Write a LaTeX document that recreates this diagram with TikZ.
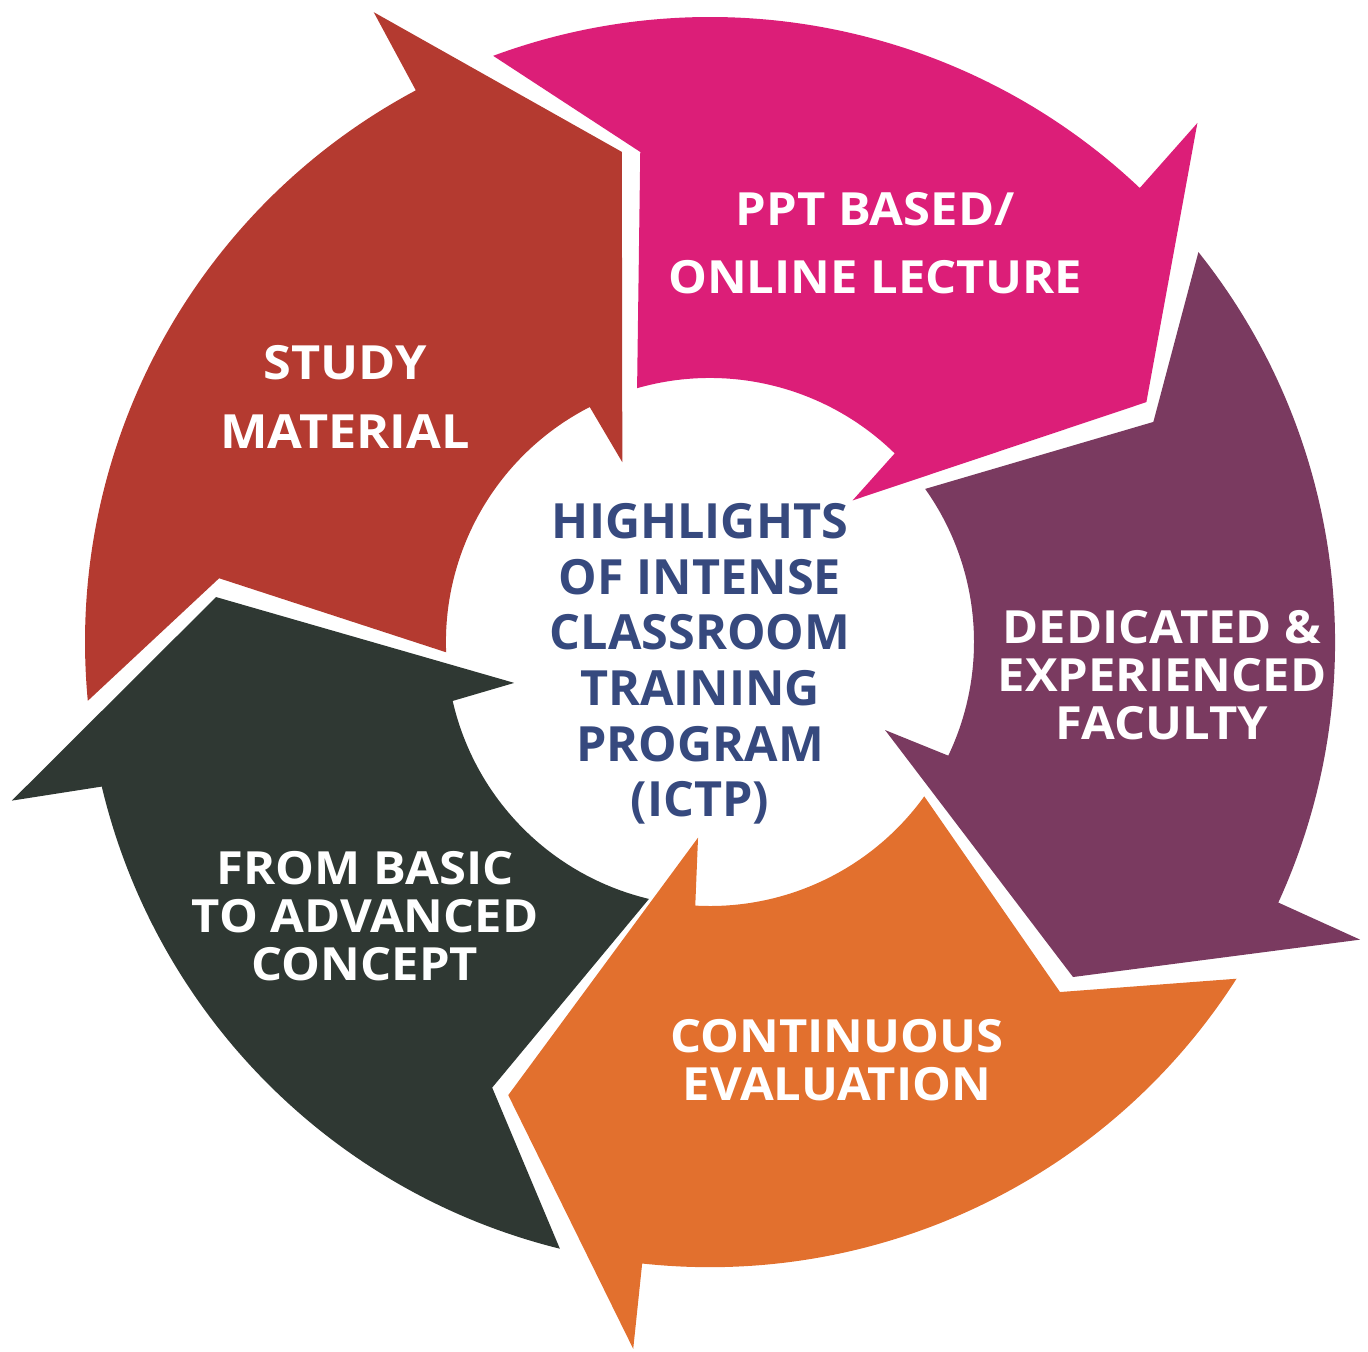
\documentclass[tikz,border=0pt]{standalone}
\usepackage{fontspec}
\setmainfont{Open Sans}
\newfontfamily\labfont{Open Sans}[FakeStretch=1.07]
\definecolor{cRed}{HTML}{B43A30}
\definecolor{cPink}{HTML}{DC1E78}
\definecolor{cPurple}{HTML}{7A3A60}
\definecolor{cOrange}{HTML}{E2702E}
\definecolor{cDark}{HTML}{2F3833}
\definecolor{cNavy}{HTML}{36497E}
\begin{document}
\begin{tikzpicture}[x=0.01cm,y=0.01cm,
  lbl/.style={text=white, align=center, inner sep=0pt, font=\labfont\bfseries\fontsize{13.0}{13.7}\selectfont},
  lblwide/.style={lbl, font=\labfont\bfseries\fontsize{13.0}{19.4}\selectfont},
  hub/.style={text=cNavy, align=center, inner sep=0pt, font=\bfseries\fontsize{13.8}{15.8}\selectfont}]
\useasboundingbox (-710,-709) rectangle (658,642);
% red arrow (study material)
\fill[cRed] (185.4:625) arc[start angle=185.4, end angle=118.1, radius=6.25cm]
  -- (118.1:714) -- (100.2:498) -- (116.0:200) -- (117.1:264)
  arc[start angle=117.1, end angle=182.2, radius=2.64cm] -- (172.6:495) -- cycle;
% pink arrow
\fill[cPink] (110.3:625) arc[start angle=110.3, end angle=46.6, radius=6.25cm]
  -- (46.8:712) -- (28.8:498) -- (44.8:201) -- (45.6:264)
  arc[start angle=45.6, end angle=106.0, radius=2.64cm] -- (98.1:495) -- cycle;
% purple arrow
\fill[cPurple] (38.6:625) arc[start angle=38.6, end angle=-24.6, radius=6.25cm]
  -- (-24.6:715) -- (-42.7:494) -- (-26.7:196) -- (-25.5:264)
  arc[start angle=-25.5, end angle=35.4, radius=2.64cm] -- (26.4:495) -- cycle;
% orange arrow
\fill[cOrange] (-32.6:625) arc[start angle=-32.6, end angle=-96.2, radius=6.25cm]
  -- (-96.2:711) -- (-114.0:496) -- (-93.5:196) -- (-93.2:264)
  arc[start angle=-93.2, end angle=-35.8, radius=2.64cm] -- (-45.0:495) -- cycle;
% dark arrow
\fill[cDark] (-103.9:625) arc[start angle=-103.9, end angle=-166.6, radius=6.25cm]
  -- (-167.2:716) -- (-185.2:496) -- (-168.2:200) -- (-167.1:264)
  arc[start angle=-167.1, end angle=-103.4, radius=2.64cm] -- (-116.05:496) -- cycle;
% labels
\node[lblwide, font=\labfont\bfseries\fontsize{13.4}{19.4}\selectfont] (study) at (-365,245) {STUDY\\MATERIAL};
\node[lblwide] (ppt) at (165,399) {PPT BASED/\\ONLINE LECTURE};
\node[lbl] (faculty) at (452,-33) {DEDICATED \&\\EXPERIENCED\\FACULTY};
\node[lbl] (eval) at (127,-418) {CONTINUOUS\\EVALUATION};
\node[lbl] (basic) at (-345,-274) {FROM BASIC\\TO ADVANCED\\CONCEPT};
\node[hub] (hub) at (-10,-22) {HIGHLIGHTS\\OF INTENSE\\CLASSROOM\\TRAINING\\PROGRAM\\(ICTP)};
\end{tikzpicture}
\end{document}
